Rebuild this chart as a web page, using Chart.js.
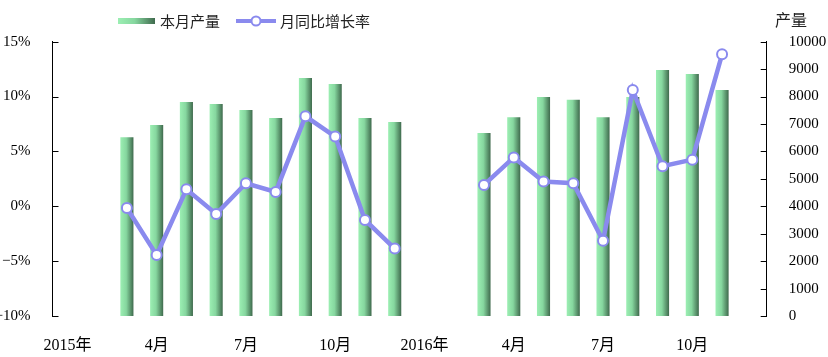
<!DOCTYPE html>
<html>
<head>
<meta charset="utf-8">
<script src="https://cdn.jsdelivr.net/npm/chart.js@4"></script>
<style>
html,body{margin:0;padding:0;background:#fff;}
#wrap{width:828px;height:357px;position:relative;}
</style>
</head>
<body>
<div id="wrap"><canvas id="c" width="828" height="357"></canvas></div>
<script>
// ---- data ----
const categories = ['2015-01','2015-02','2015-03','2015-04','2015-05','2015-06','2015-07','2015-08','2015-09','2015-10','2015-11','2015-12',
                    '2016-01','2016-02','2016-03','2016-04','2016-05','2016-06','2016-07','2016-08','2016-09','2016-10','2016-11','2016-12'];
const tickLabels = ['2015年','','','4月','','','7月','','','10月','','',
                    '2016年','','','4月','','','7月','','','10月','',''];
const production = [null,null,6520,6960,7800,7730,7510,7220,8680,8460,7220,7070,
                    null,null,6670,7250,7980,7880,7250,7980,8970,8820,8240,null];
const yoyGrowth = [null,null,-0.15,-4.45,1.55,-0.7,2.1,1.3,8.2,6.35,-1.25,-3.85,
                   null,null,1.95,4.45,2.25,2.1,-3.15,10.6,3.65,4.25,13.85,null];
const seriesNames = ['本月产量','月同比增长率'];
const rightAxisTitle = '产量';

const BAR_PCT = 0.44;
const LINE_COLOR = '#8a8aee';
const NUM_FONT = "'Liberation Serif','Noto Sans CJK SC',serif";
const CJK_FONT = "'Noto Sans CJK SC','Liberation Serif',sans-serif";

function barGradient(ctx, x0, x1){
  const g = ctx.createLinearGradient(x0,0,x1,0);
  g.addColorStop(0,'#9cefb3');
  g.addColorStop(0.45,'#86d79f');
  g.addColorStop(1,'#3f6a4d');
  return g;
}

const decor = {
  id:'decor',
  afterDraw(chart){
    const {ctx, chartArea, scales} = chart;
    ctx.save();
    // inward tick marks
    ctx.strokeStyle = '#000'; ctx.lineWidth = 1;
    const yl = scales.y, yr = scales.y1;
    yl.ticks.forEach(t=>{
      const py = Math.round(yl.getPixelForValue(t.value))+0.5;
      ctx.beginPath(); ctx.moveTo(chartArea.left, py); ctx.lineTo(chartArea.left+6, py); ctx.stroke();
    });
    yr.ticks.forEach(t=>{
      const py = Math.round(yr.getPixelForValue(t.value))+0.5;
      ctx.beginPath(); ctx.moveTo(chartArea.right, py); ctx.lineTo(chartArea.right-6, py); ctx.stroke();
    });
    // legend
    const ly = 21;
    ctx.fillStyle = barGradient(ctx,118,155);
    ctx.fillRect(118, ly-3, 37, 6);
    ctx.font = "15px " + CJK_FONT;
    ctx.fillStyle = '#222';
    ctx.textBaseline = 'middle';
    ctx.textAlign = 'left';
    ctx.fillText(seriesNames[0], 160, ly);
    ctx.strokeStyle = LINE_COLOR; ctx.lineWidth = 4;
    ctx.beginPath(); ctx.moveTo(236, ly); ctx.lineTo(276, ly); ctx.stroke();
    ctx.fillStyle = '#fff'; ctx.lineWidth = 2;
    ctx.beginPath(); ctx.arc(256, ly, 4.5, 0, Math.PI*2); ctx.fill(); ctx.stroke();
    ctx.fillStyle = '#222';
    ctx.fillText(seriesNames[1], 280, ly);
    // right axis title
    ctx.font = "16px " + CJK_FONT;
    ctx.textAlign = 'center';
    ctx.fillText(rightAxisTitle, 791, 20);
    ctx.restore();
  }
};

new Chart(document.getElementById('c'), {
  data: {
    labels: categories,
    datasets: [
      {
        type:'line', label: seriesNames[1], data: yoyGrowth, yAxisID:'y', order:0,
        borderColor: LINE_COLOR, borderWidth: 4.5, pointRadius: 5, pointBorderWidth: 2,
        pointBackgroundColor:'#fff', pointBorderColor: LINE_COLOR, spanGaps:false, tension:0
      },
      {
        type:'bar', label: seriesNames[0], data: production, yAxisID:'y1', order:1,
        barPercentage: BAR_PCT, categoryPercentage: 1.0,
        backgroundColor: (c)=>{
          const chart = c.chart; const {ctx, chartArea, scales} = chart;
          if(!chartArea || !scales.x) return '#7fd59b';
          const x = scales.x.getPixelForValue(c.dataIndex);
          const w = (chartArea.right-chartArea.left)/categories.length*BAR_PCT;
          return barGradient(ctx, x-w/2, x+w/2);
        }
      }
    ]
  },
  options: {
    responsive:false, animation:false, devicePixelRatio:1,
    layout:{padding:{top:41.7,left:0,right:0,bottom:0}},
    plugins:{legend:{display:false}, tooltip:{enabled:false}},
    scales:{
      x:{
        grid:{display:false}, border:{display:false},
        ticks:{autoSkip:false, maxRotation:0, padding:12, color:'#000',
               font:{family:NUM_FONT, size:16},
               callback:(v,i)=>tickLabels[i]},
        afterFit(s){ s.height = 41; }
      },
      y:{
        position:'left', min:-10, max:15,
        grid:{display:false}, border:{display:true,color:'#000',width:1},
        ticks:{stepSize:5, padding:14, color:'#000', font:{family:NUM_FONT, size:15},
               callback:v=>(v<0?'\u2212'+(-v):v)+'%'},
        afterFit(s){ s.width = 52.5; }
      },
      y1:{
        position:'right', min:0, max:10000,
        grid:{display:false}, border:{display:true,color:'#000',width:1},
        ticks:{stepSize:1000, padding:14, color:'#000', font:{family:NUM_FONT, size:15},
               callback:v=>String(v)},
        afterFit(s){ s.width = 61.3; }
      }
    }
  },
  plugins:[decor]
});
</script>
</body>
</html>
